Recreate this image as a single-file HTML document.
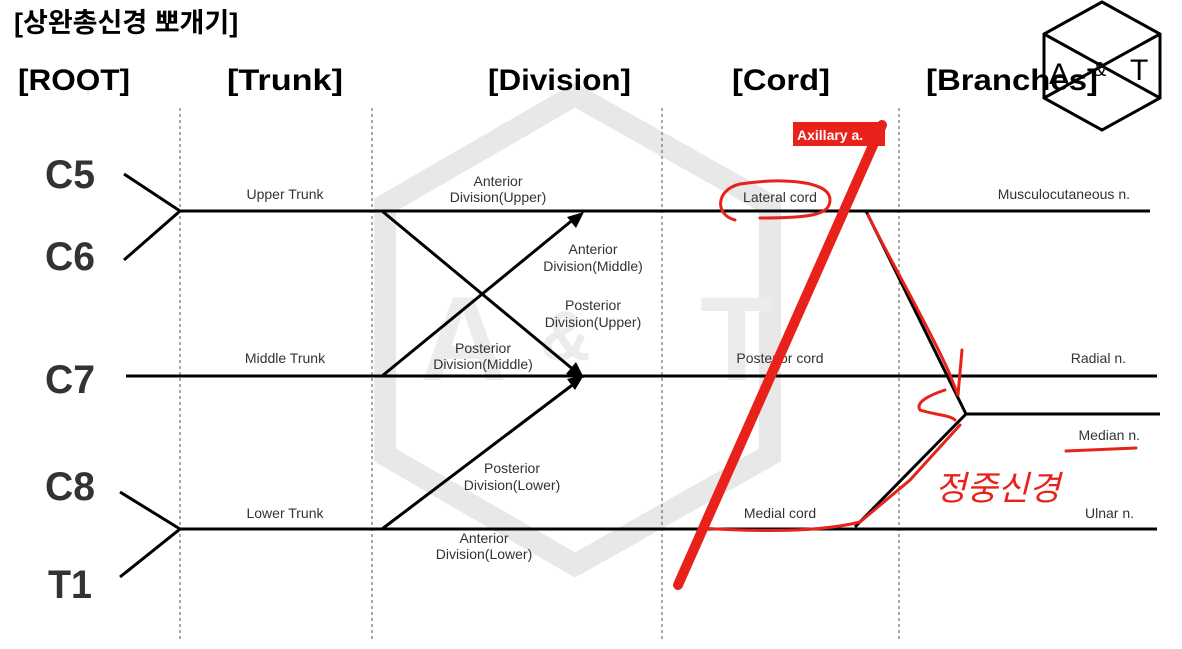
<!DOCTYPE html>
<html><head><meta charset="utf-8"><style>
html,body{margin:0;padding:0;background:#fff;}
svg{display:block;}
text{font-family:"Liberation Sans","Noto Sans CJK KR",sans-serif;}
</style></head><body>
<svg width="1182" height="649" viewBox="0 0 1182 649" xmlns="http://www.w3.org/2000/svg">
<rect width="1182" height="649" fill="#fff"/>
<g stroke="#e8e8e8" stroke-width="22" fill="none">
<polygon points="575,95 770,205 770,455 575,565 385,455 385,205"/>
</g>
<g fill="#ececec" font-weight="bold">
<text x="420" y="380" font-size="120">A</text>
<text x="540" y="360" font-size="70">&amp;</text>
<text x="700" y="380" font-size="120">T</text>
</g>
<text x="14" y="32" font-size="27" font-weight="bold">[상완총신경 뽀개기]</text>
<g font-size="30" font-weight="bold">
<text x="18" y="90" textLength="112" lengthAdjust="spacingAndGlyphs">[ROOT]</text>
<text x="227" y="90" textLength="116" lengthAdjust="spacingAndGlyphs">[Trunk]</text>
<text x="488" y="90" textLength="143" lengthAdjust="spacingAndGlyphs">[Division]</text>
<text x="732" y="90" textLength="98" lengthAdjust="spacingAndGlyphs">[Cord]</text>
<text x="926" y="90" textLength="172" lengthAdjust="spacingAndGlyphs">[Branches]</text>
</g>
<g stroke="#555" stroke-width="1" stroke-dasharray="3,3">
<line x1="180" y1="108" x2="180" y2="640"/>
<line x1="372" y1="108" x2="372" y2="640"/>
<line x1="662" y1="108" x2="662" y2="640"/>
<line x1="899" y1="108" x2="899" y2="640"/>
</g>
<g stroke="#000" stroke-width="3" fill="none">
<line x1="180" y1="211" x2="1150" y2="211"/>
<line x1="126" y1="376" x2="1157" y2="376"/>
<line x1="180" y1="529" x2="1157" y2="529"/>
<line x1="966" y1="414" x2="1160" y2="414"/>
<polyline points="124,174 180,211 124,260"/>
<polyline points="120,492 180,529 120,577"/>
<line x1="382" y1="211" x2="575" y2="371"/>
<line x1="382" y1="376" x2="575" y2="218"/>
<line x1="382" y1="529" x2="575" y2="383"/>
<line x1="866" y1="211" x2="966" y2="414"/>
<line x1="855" y1="527" x2="966" y2="414"/>
</g>
<g fill="#000">
<polygon points="584,378 566,374 576,362"/>
<polygon points="584,212 576,228 567,217"/>
<polygon points="584,375 575,390 567,379"/>
</g>
<g font-size="40" font-weight="bold" fill="#333">
<text x="45" y="188" textLength="50" lengthAdjust="spacingAndGlyphs">C5</text>
<text x="45" y="270" textLength="50" lengthAdjust="spacingAndGlyphs">C6</text>
<text x="45" y="393" textLength="50" lengthAdjust="spacingAndGlyphs">C7</text>
<text x="45" y="500" textLength="50" lengthAdjust="spacingAndGlyphs">C8</text>
<text x="48" y="598" textLength="44" lengthAdjust="spacingAndGlyphs">T1</text>
</g>
<g font-size="14" fill="#333" text-anchor="middle">
<text x="285" y="199">Upper Trunk</text>
<text x="285" y="363">Middle Trunk</text>
<text x="285" y="518">Lower Trunk</text>
<text x="498" y="186">Anterior</text>
<text x="498" y="202">Division(Upper)</text>
<text x="593" y="254">Anterior</text>
<text x="593" y="271">Division(Middle)</text>
<text x="593" y="310">Posterior</text>
<text x="593" y="327">Division(Upper)</text>
<text x="483" y="353">Posterior</text>
<text x="483" y="369">Division(Middle)</text>
<text x="512" y="473">Posterior</text>
<text x="512" y="490">Division(Lower)</text>
<text x="484" y="543">Anterior</text>
<text x="484" y="559">Division(Lower)</text>
<text x="780" y="202">Lateral cord</text>
<text x="780" y="363">Posterior cord</text>
<text x="780" y="518">Medial cord</text>
</g>
<g font-size="14" fill="#333" text-anchor="end">
<text x="1130" y="199">Musculocutaneous n.</text>
<text x="1126" y="363">Radial n.</text>
<text x="1140" y="440">Median n.</text>
<text x="1134" y="518">Ulnar n.</text>
</g>
<g stroke="#000" stroke-width="3" fill="none">
<polygon points="1102,2 1160,34 1160,98 1102,130 1044,98 1044,34"/>
<line x1="1044" y1="34" x2="1160" y2="98"/>
<line x1="1160" y1="34" x2="1044" y2="98"/>
</g>
<g font-size="30" fill="#000">
<text x="1049" y="84">A</text>
<text x="1093" y="76" font-size="20">&amp;</text>
<text x="1130" y="80">T</text>
</g>
<g stroke="#e8221a" fill="none" stroke-linecap="round">
<line x1="678" y1="585" x2="882" y2="125" stroke-width="10"/>
<path d="M735,220 C715,215 715,190 740,184 C780,178 830,180 830,200 C830,215 810,218 760,218" stroke-width="3"/>
<path d="M868,215 C890,260 925,320 948,370 L958,395" stroke-width="3"/>
<path d="M958,395 L962,350 M945,390 C930,395 915,402 920,410 C935,415 950,415 955,420" stroke-width="3"/>
<path d="M960,425 L910,480 L860,522 C820,532 760,532 700,528" stroke-width="3"/>
<path d="M1066,451 L1136,448" stroke-width="3"/>
</g>
<text x="935" y="500" font-size="34" fill="#e8221a" font-style="italic">정중신경</text>
<rect x="793" y="122" width="92" height="24" fill="#e8221a"/>
<text x="797" y="140" font-size="14" font-weight="bold" fill="#fff">Axillary a.</text>
</svg>
</body></html>
